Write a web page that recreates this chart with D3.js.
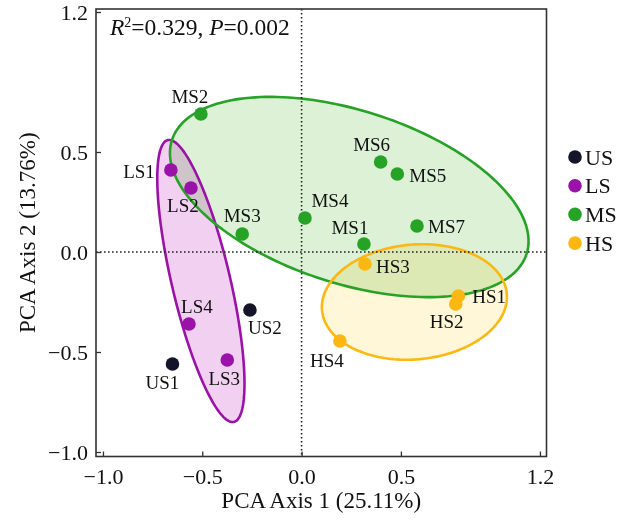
<!DOCTYPE html>
<html>
<head>
<meta charset="utf-8">
<script src="https://cdn.jsdelivr.net/npm/d3@7/dist/d3.min.js"></script>
<style>
  html, body { margin: 0; padding: 0; background: #fff; }
  svg { display: block; }
  text { font-family: "Liberation Serif", "Times New Roman", serif; fill: #111; }
</style>
</head>
<body>
<svg id="chart" width="632" height="520"></svg>
<script>
// Sample scores on the first two PCA axes
const samples = ["US1","US2","LS1","LS2","LS3","LS4","MS1","MS2","MS3","MS4","MS5","MS6","MS7","HS1","HS2","HS3","HS4"];
const sampleGroup = ["US","US","LS","LS","LS","LS","MS","MS","MS","MS","MS","MS","MS","HS","HS","HS","HS"];
const pc1 = [-0.65,-0.26,-0.658,-0.557,-0.374,-0.567, 0.314,-0.507,-0.299, 0.017, 0.482, 0.398, 0.581, 0.789, 0.776, 0.319, 0.193];
const pc2 = [-0.56,-0.29, 0.41, 0.32,-0.54,-0.36, 0.04, 0.69, 0.09, 0.17, 0.39, 0.45, 0.13,-0.22,-0.26,-0.06,-0.445];

// Groups and their confidence ellipses (centre, semi-axes, rotation in degrees)
const groups = ["US","LS","MS","HS"];
const ellipseGroups = ["LS","MS","HS"];
const ellipseCx = [-0.507, 0.24, 0.568];
const ellipseCy = [-0.145, 0.275, -0.25];
const ellipseRx = [0.724, 0.937, 0.467];
const ellipseRy = [0.147, 0.433, 0.287];
const ellipseAngle = [103.3, -17.6, 5];

// Axis ticks and titles
const xTicks = [-1.0, -0.5, 0.0, 0.5, 1.2];
const yTicks = [-1.0, -0.5, 0.0, 0.5, 1.2];
const xTitle = "PCA Axis 1 (25.11%)";
const yTitle = "PCA Axis 2 (13.76%)";
const r2Value = "0.329";
const pValue = "0.002";

const colors = { US: "#15152a", LS: "#9a12a8", MS: "#26a326", HS: "#fdb713" };
const fills  = { LS: "#f2d0f2", MS: "#dcf1d6", HS: "#fff7d8" };

const svg = d3.select("#chart");
const frame = { left: 96, right: 546.5, top: 9, bottom: 456.5 };

const x = d3.scaleLinear().domain([-1.035, 1.233]).range([frame.left, frame.right]);
const y = d3.scaleLinear().domain([-1.0225, 1.215]).range([frame.bottom, frame.top]);

const fmt = d => (d < 0 ? "\u2212" : "") + Math.abs(d).toFixed(1);

// Ellipse outlines computed in data space, mapped through the scales
function ellipsePoints(i) {
  const a = ellipseAngle[i] * Math.PI / 180;
  const pts = [];
  for (let k = 0; k <= 180; k++) {
    const t = k / 180 * 2 * Math.PI;
    const u = ellipseRx[i] * Math.cos(t), v = ellipseRy[i] * Math.sin(t);
    pts.push([x(ellipseCx[i] + u * Math.cos(a) - v * Math.sin(a)),
              y(ellipseCy[i] + u * Math.sin(a) + v * Math.cos(a))]);
  }
  return pts;
}
const line = d3.line().curve(d3.curveLinearClosed);

const plot = svg.append("g");
plot.append("defs").append("clipPath").attr("id", "clip")
  .append("rect").attr("x", frame.left).attr("y", frame.top)
  .attr("width", frame.right - frame.left).attr("height", frame.bottom - frame.top);

const ell = plot.append("g").attr("clip-path", "url(#clip)");
const fillLayer = ell.append("g").style("isolation", "isolate");
ellipseGroups.forEach((g, i) => {
  fillLayer.append("path").attr("d", line(ellipsePoints(i)))
    .attr("fill", fills[g]).style("mix-blend-mode", "multiply");
});

// Zero reference lines
plot.append("line").attr("x1", frame.left).attr("x2", frame.right)
  .attr("y1", y(0)).attr("y2", y(0))
  .attr("stroke", "#222").attr("stroke-width", 1.6).attr("stroke-dasharray", "1.6,2.4");
plot.append("line").attr("y1", frame.top).attr("y2", frame.bottom)
  .attr("x1", x(0)).attr("x2", x(0))
  .attr("stroke", "#222").attr("stroke-width", 1.6).attr("stroke-dasharray", "1.6,2.4");

ellipseGroups.forEach((g, i) => {
  ell.append("path").attr("d", line(ellipsePoints(i)))
    .attr("fill", "none").attr("stroke", colors[g]).attr("stroke-width", 2.6);
});

// Frame and inward ticks
const axes = svg.append("g");
const xAxis = d3.axisBottom(x).tickValues(xTicks).tickSize(-5).tickPadding(12).tickFormat(fmt);
const yAxis = d3.axisLeft(y).tickValues(yTicks).tickSize(-5).tickPadding(8).tickFormat(fmt);
const gx = axes.append("g").attr("transform", `translate(0,${frame.bottom})`).call(xAxis);
const gy = axes.append("g").attr("transform", `translate(${frame.left},0)`).call(yAxis);
[gx, gy].forEach(g => {
  g.select(".domain").remove();
  g.selectAll(".tick line").attr("stroke", "#333").attr("stroke-width", 1.3);
  g.selectAll(".tick text").style("font-size", "22px")
    .style("font-family", "'Liberation Serif', 'Times New Roman', serif").attr("fill", "#111");
});
gx.selectAll(".tick text").attr("dy", "0.72em");
axes.append("rect").attr("x", frame.left).attr("y", frame.top)
  .attr("width", frame.right - frame.left).attr("height", frame.bottom - frame.top)
  .attr("fill", "none").attr("stroke", "#333").attr("stroke-width", 1.6);

// Axis titles
svg.append("text").attr("x", (frame.left + frame.right) / 2).attr("y", 508)
  .attr("text-anchor", "middle").style("font-size", "23px").text(xTitle);
svg.append("text").attr("transform", `translate(35,${(frame.top + frame.bottom) / 2}) rotate(-90)`)
  .attr("text-anchor", "middle").style("font-size", "23px").text(yTitle);

// Statistics annotation
const ann = svg.append("text").attr("x", 110).attr("y", 35).style("font-size", "23.5px");
ann.append("tspan").style("font-style", "italic").text("R");
ann.append("tspan").attr("dy", -8).style("font-size", "14px").text("2");
ann.append("tspan").attr("dy", 8).text("=" + r2Value + ", ");
ann.append("tspan").style("font-style", "italic").text("P");
ann.append("tspan").text("=" + pValue);

// Sample points
const pts = plot.append("g");
samples.forEach((s, i) => {
  pts.append("circle").attr("cx", x(pc1[i])).attr("cy", y(pc2[i])).attr("r", 6.8)
    .attr("fill", colors[sampleGroup[i]]);
});

// Sample labels, placed beside each point
const labelPlace = {
  US1: [-10, 18, "middle"], US2: [15, 17, "middle"],
  LS1: [-16, 1, "end"], LS2: [-8, 17, "middle"], LS3: [-3, 18, "middle"], LS4: [8, -18, "middle"],
  MS1: [-14, -17, "middle"], MS2: [-11, -18, "middle"], MS3: [0, -19, "middle"], MS4: [25, -18, "middle"],
  MS5: [12, 1, "start"], MS6: [-9, -18, "middle"], MS7: [11, 0, "start"],
  HS1: [14, 0, "start"], HS2: [-9, 17, "middle"], HS3: [11, 2, "start"], HS4: [-13, 19, "middle"]
};
const labels = svg.append("g");
samples.forEach((s, i) => {
  const p = labelPlace[s];
  labels.append("text").attr("x", x(pc1[i]) + p[0]).attr("y", y(pc2[i]) + p[1] + 6.5)
    .attr("text-anchor", p[2]).style("font-size", "19px").text(s);
});

// Legend
const legend = svg.append("g").attr("transform", "translate(575,157)");
groups.forEach((g, i) => {
  const row = legend.append("g").attr("transform", `translate(0,${i * 28.7})`);
  row.append("circle").attr("r", 6.8).attr("fill", colors[g]);
  row.append("text").attr("x", 10).attr("y", 7.5).style("font-size", "22px").text(g);
});
</script>
</body>
</html>
